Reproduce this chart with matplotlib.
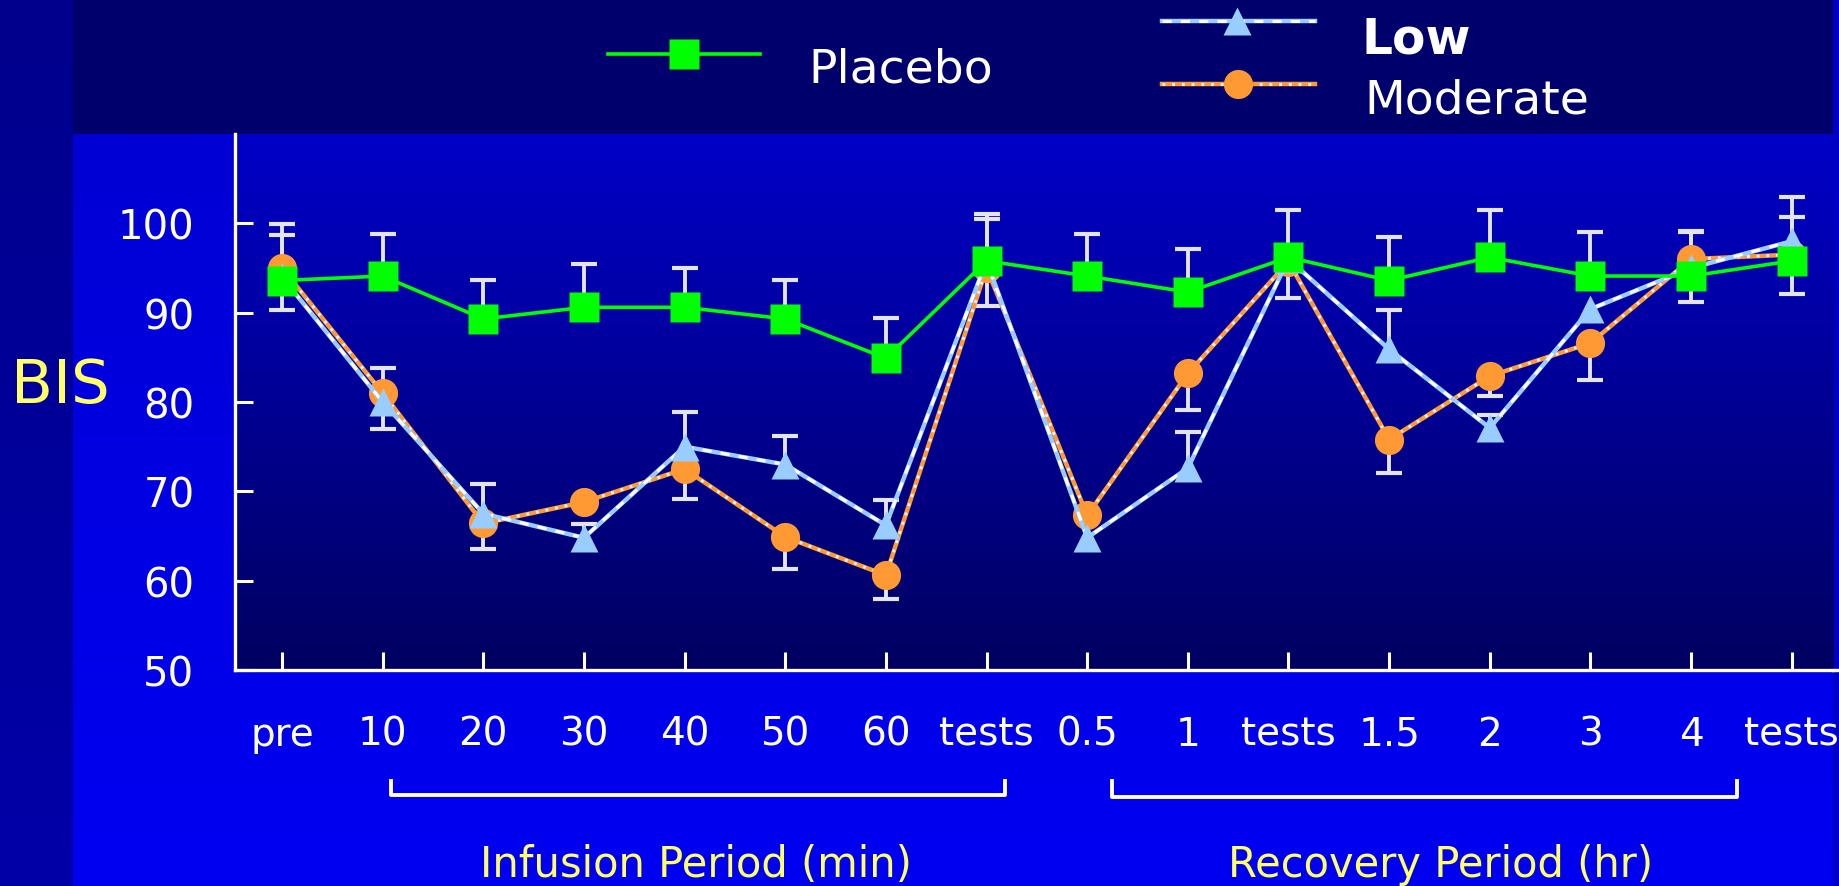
import numpy as np
import matplotlib.pyplot as plt
from matplotlib.colors import LinearSegmentedColormap
from matplotlib.patches import Rectangle

plt.rcParams['font.family'] = ['DejaVu Sans']

# time points along the study
labels = ['pre', '10', '20', '30', '40', '50', '60', 'tests',
          '0.5', '1', 'tests', '1.5', '2', '3', '4', 'tests']

# mean BIS per group and one-sided SD whiskers (0 = not drawn)
placebo = [93.6, 94.1, 89.3, 90.6, 90.6, 89.3, 84.9, 95.8,
           94.1, 92.3, 96.2, 93.6, 96.2, 94.1, 94.1, 95.8]
placebo_up = [5.1, 4.7, 4.4, 4.8, 4.4, 4.4, 4.5, 5.2,
              4.7, 4.8, 5.3, 4.9, 5.3, 4.9, 5.0, 4.9]
placebo_lo = [0] * 16

low = [94.0, 80.0, 67.5, 64.8, 75.0, 73.0, 66.2, 95.8,
       64.8, 72.6, 96.0, 85.9, 77.1, 90.4, 95.0, 98.0]
low_up = [0, 0, 3.3, 1.5, 3.9, 3.2, 2.8, 0, 0, 4.0, 0, 4.4, 1.5, 0, 0, 4.9]
low_lo = [3.7, 3.0, 0, 0, 0, 0, 0, 5.0, 0, 0, 4.4, 0, 0, 0, 0, 0]

moderate = [95.0, 81.0, 66.4, 68.8, 72.5, 64.9, 60.6, 95.0,
            67.3, 83.2, 95.7, 75.8, 82.9, 86.6, 96.0, 96.5]
mod_up = [4.9, 2.8, 0, 0, 0, 0, 0, 5.5, 0, 0, 0, 0, 0, 0, 3.0, 0]
mod_lo = [0, 0, 2.8, 0, 3.4, 3.6, 2.6, 0, 0, 4.1, 0, 3.7, 2.2, 4.1, 4.8, 4.4]

GREEN = '#00ff00'
SKY = '#99ccff'
ORANGE = '#ff9933'
BAR = '#e4e4ec'
YELLOW = '#ffff66'

fig = plt.figure(figsize=(18.4, 8.87), dpi=100)
fig.patch.set_facecolor('#00006c')

# slide background, pixel coordinates
bg = fig.add_axes([0, 0, 1, 1], zorder=0)
bg.axis('off')
col = np.linspace(0, 1, 256).reshape(-1, 1)
bg.imshow(col, extent=[0, 73, 887, 0], aspect='auto',
          cmap=LinearSegmentedColormap.from_list('lb', ['#00008c', '#0000a8']))
bg.imshow(col, extent=[73, 1833, 887, 135], aspect='auto',
          cmap=LinearSegmentedColormap.from_list('bb', ['#0000d4', '#0000f2']))
bg.add_patch(Rectangle((1833, 0), 7, 887, color='#0000c4', lw=0))
bg.set_xlim(0, 1840)
bg.set_ylim(887, 0)

ax = fig.add_axes([234.7 / 1840, 1 - 671 / 887, (1833 - 234.7) / 1840, (671 - 135) / 887],
                  zorder=2)
ax.patch.set_alpha(0)
x = np.arange(len(labels))
xlim = (-0.47, 15.41)
ylim = (50, 110)
ax.imshow(col, extent=[xlim[0], xlim[1], ylim[0], ylim[1]], aspect='auto', zorder=0,
          cmap=LinearSegmentedColormap.from_list('pl', ['#0000c8', '#000060']))


def whiskers(vals, up, lo):
    vals, up, lo = np.asarray(vals), np.asarray(up), np.asarray(lo)
    for err, sign in ((up, 1), (lo, -1)):
        keep = err > 0
        ends = vals[keep] + sign * err[keep]
        ax.vlines(x[keep], vals[keep], ends, color=BAR, lw=2.8, zorder=2)
        ax.plot(x[keep], ends, '_', ms=19, mew=3, color=BAR, zorder=2)


whiskers(moderate, mod_up, mod_lo)
whiskers(low, low_up, low_lo)
whiskers(placebo, placebo_up, placebo_lo)

# moderate: orange with white dots
ax.plot(x, moderate, color=ORANGE, lw=3.2, zorder=3)
ax.plot(x, moderate, color='white', lw=2, ls=(0, (1, 2.5)), zorder=3.1)
ax.plot(x, moderate, 'o', ms=21, color=ORANGE, mec='none', zorder=3.2)

# low: light blue with white dashes
ax.plot(x, low, color=SKY, lw=3.2, zorder=4)
ax.plot(x, low, color='white', lw=2.2, ls=(0, (3, 3)), zorder=4.1)
ax.plot(x, low, '^', ms=20, color=SKY, mec='none', zorder=4.2)

# placebo
ax.plot(x, placebo, color=GREEN, lw=2.6, zorder=5)
ax.plot(x, placebo, 's', ms=21, color=GREEN, mec='none', zorder=5.1)

ax.set_xlim(*xlim)
ax.set_ylim(*ylim)
ax.set_xticks(x)
ax.set_xticklabels(labels, va='baseline', fontsize=28)
ax.set_yticks([50, 60, 70, 80, 90, 100])
ax.tick_params(direction='in', length=13, width=2.2, color='white',
               labelcolor='white')
ax.tick_params(axis='x', pad=54)
ax.tick_params(axis='y', pad=29, labelsize=29)
for s in ('top', 'right'):
    ax.spines[s].set_visible(False)
for s in ('left', 'bottom'):
    ax.spines[s].set_color('white')
    ax.spines[s].set_linewidth(2.4)
bg.plot([1833, 1840], [671, 671], color='white', lw=2.4)

# axis titles
bg.text(60, 387, 'BIS', color=YELLOW, fontsize=44, ha='center', va='center')
bg.text(696, 865, 'Infusion Period (min)', color=YELLOW, fontsize=30,
        ha='center', va='center')
bg.text(1441, 865, 'Recovery Period (hr)', color=YELLOW, fontsize=30,
        ha='center', va='center')

# period brackets
bg.plot([391, 391, 1005, 1005], [782, 796, 796, 782], color='white', lw=2.8)
bg.plot([1112, 1112, 1737, 1737], [782, 798, 798, 782], color='white', lw=2.8)

# legend
bg.plot([608, 760], [55, 55], color=GREEN, lw=2.6)
bg.plot([684], [55], 's', ms=21, color=GREEN, mec='none')
bg.text(808, 70, 'Placebo', color='white', fontsize=34, va='center')

bg.plot([1162, 1315], [22, 22], color=SKY, lw=3.2)
bg.plot([1162, 1315], [22, 22], color='white', lw=2.2, ls=(0, (3, 3)))
bg.plot([1237], [22], '^', ms=20, color=SKY, mec='none')
bg.text(1362, 40, 'Low', color='white', fontsize=35, fontweight='bold', va='center')

bg.plot([1162, 1315], [85, 85], color=ORANGE, lw=3.2)
bg.plot([1162, 1315], [85, 85], color='white', lw=2, ls=(0, (1, 2.5)))
bg.plot([1238], [85], 'o', ms=21, color=ORANGE, mec='none')
bg.text(1364, 101, 'Moderate', color='white', fontsize=34, va='center')

fig.savefig('out.png', dpi=100, facecolor=fig.get_facecolor())
